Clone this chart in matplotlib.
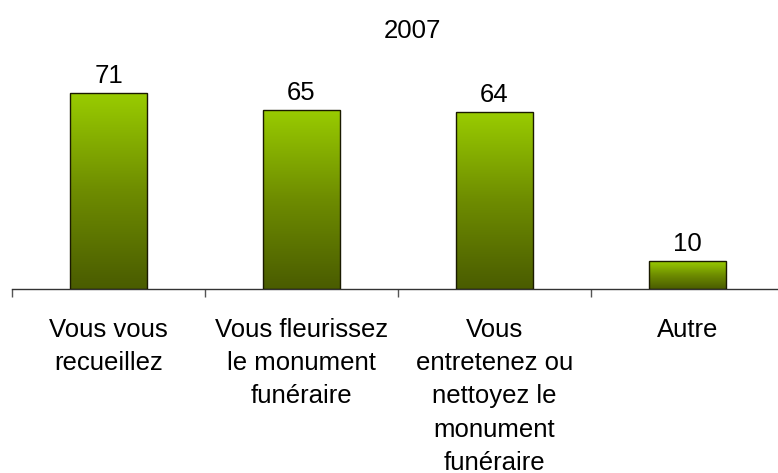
import matplotlib
matplotlib.use("Agg")
import matplotlib.pyplot as plt
import numpy as np
from matplotlib.colors import LinearSegmentedColormap

categories = ["Vous vous\nrecueillez", "Vous fleurissez\nle monument\nfunéraire",
              "Vous\nentretenez ou\nnettoyez le\nmonument\nfunéraire", "Autre"]
values = [71, 65, 64, 10]
title = "2007"

plt.rcParams['font.family'] = ['Liberation Sans', 'DejaVu Sans']
FS = 18.5

W, H = 778, 473
fig = plt.figure(figsize=(W / 100, H / 100), dpi=100)
ax_left, ax_bottom_px, ax_w = 12, 289, 772
ymax = 80
ax_h = ymax * 2.76
ax = fig.add_axes([ax_left / W, (H - ax_bottom_px) / H, ax_w / W, ax_h / H])

x = np.arange(len(values))
bars = ax.bar(x, values, width=0.404, facecolor='none', edgecolor='#1a1a00', linewidth=1.0, zorder=3)

cmap = LinearSegmentedColormap.from_list("g", ["#4a5c00", "#6e8c00", "#99cc00"])
grad = np.linspace(0, 1, 256).reshape(-1, 1)
for b in bars:
    x0, y0 = b.get_x(), b.get_y()
    w, h = b.get_width(), b.get_height()
    im = ax.imshow(grad, extent=[x0, x0 + w, y0, y0 + h], origin='lower', cmap=cmap,
                   aspect='auto', zorder=2)
    im.set_clip_path(b)
    ax.text(x0 + w / 2, h + 1.8, str(int(h)), ha='center', va='bottom', fontsize=FS, color='black')

ax.set_xlim(-0.5, len(values) - 0.5)
ax.set_ylim(0, ymax)

for s in ['top', 'right', 'left']:
    ax.spines[s].set_visible(False)
ax.spines['bottom'].set_color('#333333')
ax.spines['bottom'].set_linewidth(1.0)
ax.set_yticks([])

ax.set_xticks(np.arange(-0.5, len(values), 1.0))
ax.set_xticklabels([])
ax.tick_params(axis='x', length=6, width=1, color='#555555')
ax.set_xticks(x, minor=True)
ax.set_xticklabels(categories, minor=True, fontsize=FS, linespacing=1.48)
ax.tick_params(axis='x', which='minor', length=0, pad=21)

fig.text(412 / W, 1 - 19 / H, title, ha='center', va='top', fontsize=FS)

fig.savefig("out.png", dpi=100)
